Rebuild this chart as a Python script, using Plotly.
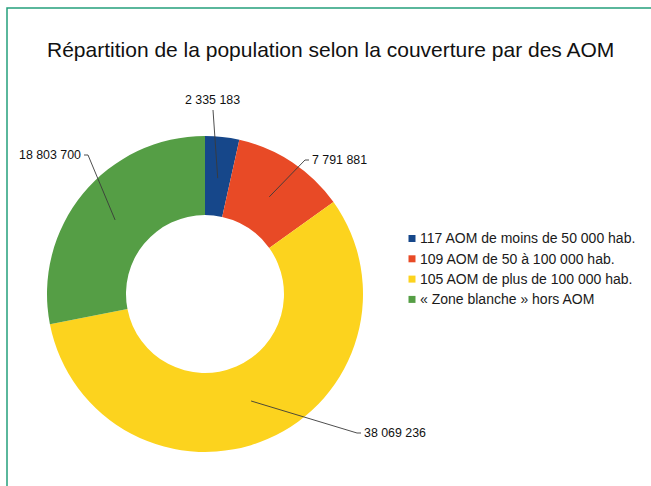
import math
import plotly.graph_objects as go

# ---------------- data ----------------
CATEGORIES = [
    "117 AOM de moins de 50 000 hab.",
    "109 AOM de 50 à 100 000 hab.",
    "105 AOM de plus de 100 000 hab.",
    "« Zone blanche » hors AOM",
]
POPULATION = [2335183, 7791881, 38069236, 18803700]
VALUE_LABELS = ["2 335 183", "7 791 881", "38 069 236", "18 803 700"]
COLORS = ["#16478A", "#E84A26", "#FCD31E", "#559E45"]
TITLE = "Répartition de la population selon la couverture par des AOM"

# ---------------- layout constants ----------------
W, H = 651, 486
CX, CY, R = 205, 294, 158          # pie centre / radius in px
HOLE = 0.5
FONT = "Liberation Sans, Arial, sans-serif"
# elbow of each leader line relative to pie centre (px), and label side
LABEL_ELBOWS = [(8, -184, "top"), (100, -134, "left"), (152, 139, "left"), (-117, -139, "right")]
TICK = 4


def px(x):
    return x / W


def py(y):
    return 1 - y / H


fig = go.Figure()
fig.add_trace(go.Pie(
    labels=CATEGORIES,
    values=POPULATION,
    marker=dict(colors=COLORS, line=dict(width=0)),
    hole=HOLE,
    sort=False,
    direction="clockwise",
    rotation=0,
    textinfo="none",
    hoverinfo="label+value",
    showlegend=False,
    domain=dict(x=[px(CX - R), px(CX + R)], y=[py(CY + R), py(CY - R)]),
))

shapes = []
annotations = []

# frame
shapes.append(dict(type="rect", xref="paper", yref="paper",
                   x0=px(7), x1=px(W + 20), y0=py(H + 20), y1=py(8),
                   line=dict(color="#25A07C", width=1.5), fillcolor="rgba(0,0,0,0)"))

# title
annotations.append(dict(text=TITLE, xref="paper", yref="paper", x=px(331), y=py(49),
                        xanchor="center", yanchor="middle", showarrow=False,
                        font=dict(family=FONT, size=21, color="#111111")))

# data labels with leader lines
total = sum(POPULATION)
cum = 0
rmid = R * (1 + HOLE) / 2 - 2
for v, lab, (ex, ey, side) in zip(POPULATION, VALUE_LABELS, LABEL_ELBOWS):
    theta = 2 * math.pi * (cum + v / 2) / total
    cum += v
    sx = CX + rmid * math.sin(theta)
    sy = CY - rmid * math.cos(theta)
    bx, by = CX + ex, CY + ey
    if side == "left":
        tx = bx + TICK
        path = f"M {px(sx)} {py(sy)} L {px(bx)} {py(by)} L {px(tx)} {py(by)}"
        ann = dict(x=px(tx + 1), y=py(by), xanchor="left", yanchor="middle")
    elif side == "right":
        tx = bx - TICK
        path = f"M {px(sx)} {py(sy)} L {px(bx)} {py(by)} L {px(tx)} {py(by)}"
        ann = dict(x=px(tx - 1), y=py(by), xanchor="right", yanchor="middle")
    else:
        path = f"M {px(sx)} {py(sy)} L {px(bx)} {py(by)}"
        ann = dict(x=px(bx - 1), y=py(by - 1), xanchor="center", yanchor="bottom")
    shapes.append(dict(type="path", xref="paper", yref="paper", path=path,
                       line=dict(color="#3a3a3a", width=0.9)))
    ann.update(text=lab, xref="paper", yref="paper", showarrow=False,
               font=dict(family=FONT, size=12.4, color="#111111"))
    annotations.append(ann)

# legend
LX, LY0, LDY, LS = 412, 238.5, 20.3, 7
for i, (cat, col) in enumerate(zip(CATEGORIES, COLORS)):
    yc = LY0 + i * LDY
    shapes.append(dict(type="rect", xref="paper", yref="paper",
                       x0=px(LX - LS / 2), x1=px(LX + LS / 2),
                       y0=py(yc + LS / 2), y1=py(yc - LS / 2),
                       fillcolor=col, line=dict(width=0)))
    annotations.append(dict(text=cat, xref="paper", yref="paper",
                            x=px(LX + 6), y=py(yc), xanchor="left", yanchor="middle",
                            showarrow=False, font=dict(family=FONT, size=14, color="#1a1a1a")))

fig.update_layout(
    width=W, height=H,
    margin=dict(l=0, r=0, t=0, b=0),
    paper_bgcolor="white", plot_bgcolor="white",
    shapes=shapes, annotations=annotations,
    showlegend=False,
)

fig.write_html(
    "out.html",
    config={"displayModeBar": False},
    post_script="document.body.style.margin='0';document.body.style.overflow='hidden';",
)
